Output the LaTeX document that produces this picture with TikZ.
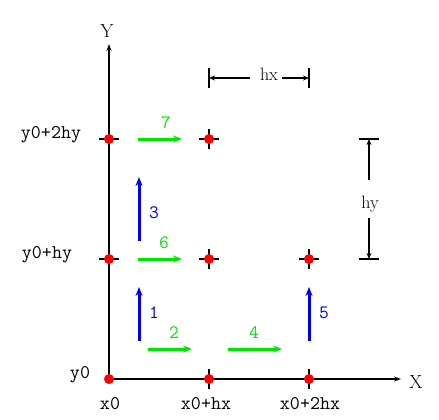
\documentclass[tikz,border=0pt]{standalone}
\usetikzlibrary{arrows.meta}
\definecolor{ptred}{RGB}{255,0,0}
\definecolor{stepgreen}{RGB}{0,230,0}
\definecolor{stepblue}{RGB}{0,0,230}
\tikzset{
  axisline/.style={line width=2bp,-{Stealth[length=7bp,width=5bp]}},
  tickline/.style={line width=2bp},
  gridpt/.style={circle,fill=ptred,inner sep=0pt,minimum size=10bp},
  greenarrow/.style={line width=3bp,stepgreen,-{Stealth[length=9bp,width=7bp]}},
  bluearrow/.style={line width=3bp,stepblue,-{Stealth[length=9bp,width=7bp]}},
  dimline/.style={line width=1.8bp,-{Stealth[length=6bp,width=5bp]}},
  axlabel/.style={font=\fontsize{19.5}{22}\ttfamily},
  numgreen/.style={text=stepgreen,font=\fontsize{19}{22}\ttfamily},
  numblue/.style={text=stepblue,font=\fontsize{19}{22}\ttfamily},
  serifbig/.style={font=\fontsize{19}{22}\selectfont},
  serifsmall/.style={font=\fontsize{18}{21}\selectfont},
}
\begin{document}
\begin{tikzpicture}[x=1bp,y=-1bp]
\useasboundingbox (0,0) rectangle (439,419);
% grid points
\coordinate (p00) at (109,379);
\coordinate (p10) at (209,379);
\coordinate (p20) at (309,379);
\coordinate (p01) at (109,259);
\coordinate (p11) at (209,259);
\coordinate (p21) at (309,259);
\coordinate (p02) at (109,139);
\coordinate (p12) at (209,139);
\coordinate (ytop) at (109,44);
\coordinate (xend) at (401,379);
% axes
\draw[axisline] (p00) -- (ytop);
\draw[axisline] (p00) -- (xend);
% ticks
\foreach \p in {p01,p02}{
  \draw[tickline] ([xshift=-10bp]\p) -- ([xshift=10bp]\p);}
\foreach \p in {p10,p20}{
  \draw[tickline] ([yshift=10bp]\p) -- ([yshift=-10bp]\p);}
\foreach \p in {p11,p21,p12}{
  \draw[tickline] ([xshift=-10bp]\p) -- ([xshift=10bp]\p);
  \draw[tickline] ([yshift=10bp]\p) -- ([yshift=-10bp]\p);}
% points
\foreach \p in {p00,p10,p20,p01,p11,p21,p02,p12}{
  \node[gridpt] at (\p) {};}
% axis labels
\node[serifbig] (ylab) at (107,31) {Y};
\node[serifbig] (xlab) at (416,382) {X};
\node[axlabel] (ly2) at (51,135) {y0+2hy};
\node[axlabel] (ly1) at (47,255) {y0+hy};
\node[axlabel] (ly0) at (80,375) {y0};
\node[axlabel] (lx0) at (110,404) {x0};
\node[axlabel] (lx1) at (206,404) {x0+hx};
\node[axlabel] (lx2) at (310,404) {x0+2hx};
% green step arrows
\coordinate (g7a) at (138,139); \coordinate (g7b) at (182,139);
\coordinate (g6a) at (138,259); \coordinate (g6b) at (182,259);
\coordinate (g2a) at (148,349); \coordinate (g2b) at (192,349);
\coordinate (g4a) at (228,349); \coordinate (g4b) at (282,349);
\draw[greenarrow] (g7a) -- (g7b);
\draw[greenarrow] (g6a) -- (g6b);
\draw[greenarrow] (g2a) -- (g2b);
\draw[greenarrow] (g4a) -- (g4b);
\node[numgreen] (n7) at (166,123) {7};
\node[numgreen] (n6) at (164,243) {6};
\node[numgreen] (n2) at (174,333) {2};
\node[numgreen] (n4) at (254,333) {4};
% blue step arrows
\coordinate (b3a) at (139,241); \coordinate (b3b) at (139,177);
\coordinate (b1a) at (139,341); \coordinate (b1b) at (139,287);
\coordinate (b5a) at (309,341); \coordinate (b5b) at (309,287);
\draw[bluearrow] (b3a) -- (b3b);
\draw[bluearrow] (b1a) -- (b1b);
\draw[bluearrow] (b5a) -- (b5b);
\node[numblue] (n3) at (154,213) {3};
\node[numblue] (n1) at (154,313) {1};
\node[numblue] (n5) at (324,313) {5};
% hx dimension
\coordinate (hxl) at (209,78); \coordinate (hxr) at (309,78);
\draw[tickline] ([yshift=-10bp]hxl) -- ([yshift=10bp]hxl);
\draw[tickline] ([yshift=-10bp]hxr) -- ([yshift=10bp]hxr);
\node[serifsmall] (hx) at (269,74) {hx};
\coordinate (hxla) at (250,78); \coordinate (hxra) at (282,78);
\draw[dimline] (hxla) -- (hxl);
\draw[dimline] (hxra) -- (hxr);
% hy dimension
\coordinate (hyt) at (369,139); \coordinate (hyb) at (369,259);
\draw[tickline] ([xshift=-10bp]hyt) -- ([xshift=10bp]hyt);
\draw[tickline] ([xshift=-10bp]hyb) -- ([xshift=10bp]hyb);
\node[serifsmall] (hy) at (370,204) {hy};
\coordinate (hyta) at (369,180); \coordinate (hyba) at (369,218);
\draw[dimline] (hyta) -- (hyt);
\draw[dimline] (hyba) -- (hyb);
\end{tikzpicture}
\end{document}
